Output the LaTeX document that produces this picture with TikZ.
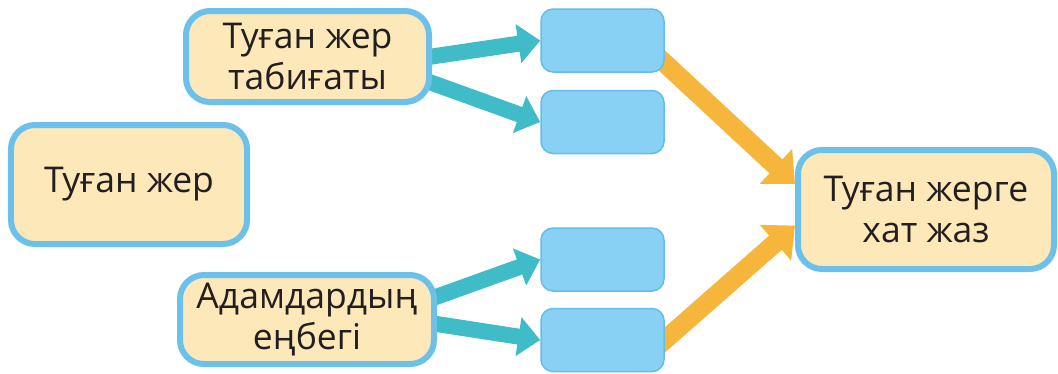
\documentclass[tikz,border=0pt]{standalone}
\usepackage{fontspec}
\setmainfont{Open Sans}
\usetikzlibrary{arrows.meta,backgrounds}
\definecolor{cream}{HTML}{FDE8B9}
\definecolor{rimblue}{HTML}{6CC1EA}
\definecolor{cellblue}{HTML}{88D1F5}
\definecolor{cellrim}{HTML}{63BDE9}
\definecolor{arrteal}{HTML}{3FBCC8}
\definecolor{arrgold}{HTML}{F6B53B}
\definecolor{inkdark}{HTML}{231F20}
\begin{document}
\begin{tikzpicture}[x=1bp,y=-1bp,
	topic/.style={draw=rimblue,line width=6bp,fill=cream,rounded corners=24bp,inner sep=2bp,align=center,font=\fontsize{35.5bp}{41bp}\selectfont,text=inkdark},
	cell/.style={draw=cellrim,line width=1.5bp,fill=cellblue,rounded corners=12bp,minimum width=123bp,minimum height=63bp},
	tealarrow/.style={arrteal,line width=16bp,shorten <=-10bp,-{Triangle[width=38bp,length=22bp]}},
	goldarrow/.style={arrgold,line width=19bp,shorten <=-12bp,-{Triangle[width=46bp,length=26bp]}}]
	\useasboundingbox (0,0) rectangle (1058,373);
	\node[topic,minimum width=243bp,minimum height=91bp] (nature) at (307.5,56.5) {Туған жер\\табиғаты};
	\node[topic,minimum width=236bp,minimum height=119bp] (home) at (129,184.5) {Туған жер};
	\node[topic,minimum width=254bp,minimum height=89bp] (work) at (307,319.5) {Адамдардың\\еңбегі};
	\node[topic,minimum width=256bp,minimum height=119bp] (letter) at (926,209.5) {Туған жерге\\хат жаз};
	\node[cell] (c1) at (602.5,40.5) {};
	\node[cell] (c2) at (602.5,122) {};
	\node[cell] (c3) at (602.5,259.5) {};
	\node[cell] (c4) at (602.5,340) {};
	\begin{scope}[on background layer]
	\draw[tealarrow] (nature.east) -- (c1.west);
	\draw[tealarrow] (nature.-12) -- (c2.west);
	\draw[tealarrow] (work.10) -- (c3.west);
	\draw[tealarrow] (work.-2) -- (c4.west);
	\draw[goldarrow] (c1.-20) -- (letter.169);
	\draw[goldarrow] (c4.east) -- (letter.187);
	\end{scope}
\end{tikzpicture}
\end{document}
